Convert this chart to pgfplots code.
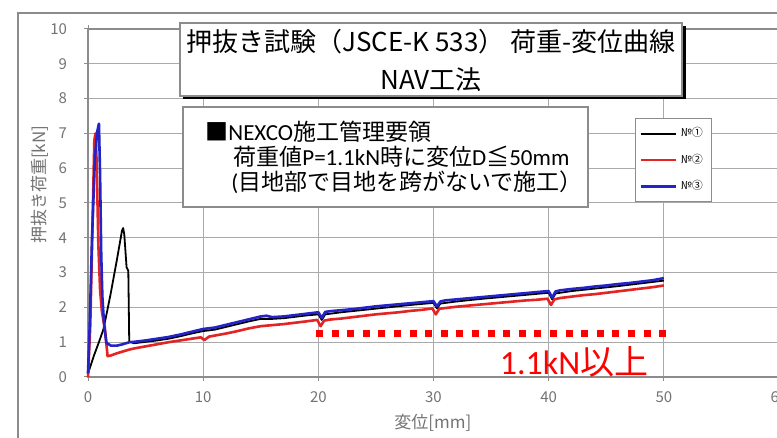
\documentclass[border=0pt]{standalone}
\usepackage{pgfplots}
\pgfplotsset{compat=1.18}
\usepackage{fontspec}
\setmainfont{Noto Sans CJK JP}
\newfontfamily\cjk{Noto Sans CJK JP}
\newfontfamily\carlito{Carlito}
\definecolor{myblue}{RGB}{35,35,200}
\definecolor{myred}{RGB}{228,35,35}
\definecolor{gridgray}{RGB}{170,170,170}
\definecolor{axgray}{RGB}{140,140,140}
\definecolor{txtgray}{RGB}{115,115,115}
\begin{document}
\begin{tikzpicture}
\begin{scope}[x=0.5pt,y=-0.5pt,yshift=219pt]
\fill[white] (0,0) rectangle (777,438);
\draw[axgray, line width=0.8pt] (18,13) rectangle (820,470);
\end{scope}
\begin{axis}[
  at={(44pt,30.5pt)}, anchor=south west, scale only axis,
  width=345.5pt, height=174pt,
  xmin=0, xmax=60, ymin=0, ymax=10,
  xtick={0,10,...,60}, ytick={0,1,...,10},
  grid=major, major grid style={gridgray, line width=0.5pt},
  axis line style={axgray, line width=0.6pt},
  tick style={axgray, line width=0.5pt}, tick align=outside, major tick length=2pt,
  /pgf/number format/assume math mode=true,
  ticklabel style={font=\fontsize{7.5}{9}\selectfont, text=txtgray},
  yticklabel style={xshift=-5pt},
  xticklabel style={yshift=-2pt},
  xlabel={変位[mm]}, ylabel={押抜き荷重[kN]},
  xlabel style={at={(rel axis cs:0.499,-0.132)}, anchor=center, font=\fontsize{8.5}{10}\selectfont, text=txtgray},
  ylabel style={at={(rel axis cs:-0.0695,0.552)}, anchor=center, font=\fontsize{8.5}{10}\selectfont, text=txtgray},
  clip=false,
  every axis plot/.append style={line join=round},
  legend style={at={(0.7916,0.744)}, anchor=north west, draw=axgray, fill=white,
    font=\fontsize{5.5}{6.5}\selectfont, inner xsep=2pt, inner ysep=2.5pt, row sep=3pt,
    cells={anchor=west}},
  legend image code/.code={\draw[#1] (0pt,0pt) -- (17.5pt,0pt);},
]
\addplot[black, line width=0.9pt] coordinates {
(0,0.1) (0.5,0.6) (1.0,1.05) (1.33,1.36) (1.7,1.95) (2.0,2.45) (2.5,3.35) (2.95,4.2) (3.05,4.28) (3.15,4.1) (3.35,3.15) (3.5,3.05) (3.58,1.02) (4,0.97) (5,1.01) (6,1.05) (7,1.1) (8,1.17) (9,1.25) (10,1.32) (11,1.36) (12,1.44) (13,1.52) (14,1.6) (15,1.67) (16,1.67) (17,1.69) (18,1.73) (19,1.77) (20,1.8) (20.3,1.64) (20.6,1.8) (22,1.86) (24,1.93) (26,2.0) (28,2.07) (30,2.13) (30.3,1.97) (30.6,2.11) (32,2.17) (34,2.24) (36,2.3) (38,2.36) (40,2.42) (40.3,2.23) (40.6,2.4) (42,2.47) (44,2.54) (46,2.61) (48,2.69) (50,2.77)};
\addlegendentry{№①}
\addplot[myred, line width=1.3pt] coordinates {
(0,0) (0.2,1.5) (0.4,4.5) (0.55,6.8) (0.65,7.0) (0.75,6.2) (0.9,3.8) (1.05,2.5) (1.2,1.9) (1.35,1.6) (1.45,1.45) (1.7,0.6) (2,0.62) (2.5,0.68) (3,0.73) (3.5,0.78) (4,0.82) (5,0.88) (6,0.94) (7,1.0) (8,1.05) (9,1.1) (9.8,1.14) (10.1,1.06) (10.5,1.16) (11,1.19) (12,1.25) (13,1.32) (14,1.4) (15,1.46) (16,1.49) (17,1.52) (18,1.56) (19,1.6) (19.9,1.64) (20.2,1.46) (20.5,1.62) (21,1.65) (22,1.68) (23,1.72) (24,1.76) (25,1.8) (26,1.83) (27,1.86) (28,1.9) (29,1.93) (29.9,1.97) (30.2,1.8) (30.5,1.96) (31,1.98) (32,2.02) (33,2.05) (34,2.08) (35,2.11) (36,2.14) (37,2.17) (38,2.2) (39,2.22) (39.9,2.25) (40.2,2.07) (40.5,2.23) (41,2.27) (42,2.31) (43,2.35) (44,2.38) (45,2.42) (46,2.46) (47,2.5) (48,2.54) (49,2.58) (50,2.63)};
\addlegendentry{№②}
\addplot[myblue, line width=1.3pt] coordinates {
(0,0.1) (0.15,1.5) (0.35,4.0) (0.6,6.3) (0.8,7.05) (0.95,7.28) (1.05,5.8) (1.15,3.5) (1.25,2.3) (1.4,1.5) (1.6,0.98) (2.0,0.9) (2.5,0.9) (3,0.94) (3.6,1.0) (4,1.01) (5,1.05) (6,1.1) (7,1.15) (8,1.22) (9,1.3) (10,1.38) (11,1.42) (12,1.5) (13,1.58) (14,1.66) (15,1.74) (15.5,1.76) (16,1.72) (17,1.74) (18,1.78) (19,1.82) (20,1.86) (20.3,1.7) (20.6,1.87) (21,1.89) (22,1.92) (23,1.95) (24,1.99) (25,2.03) (26,2.06) (27,2.09) (28,2.12) (29,2.15) (30,2.18) (30.3,2.03) (30.6,2.17) (31,2.2) (32,2.23) (33,2.26) (34,2.29) (35,2.32) (36,2.35) (37,2.38) (38,2.41) (39,2.44) (40,2.47) (40.3,2.28) (40.6,2.46) (41,2.49) (42,2.53) (43,2.56) (44,2.6) (45,2.63) (46,2.67) (47,2.7) (48,2.74) (49,2.78) (50,2.84)};
\addlegendentry{№③}
\addplot[red, line width=3.5pt, dash pattern=on 3.5pt off 4.3pt, forget plot] coordinates {(19.8,1.25) (50.2,1.25)};
\node[red, anchor=center, font=\fontsize{17}{19}\selectfont] at (axis cs:42.2,0.42) {{\carlito 1.1kN}以上};
\end{axis}
\begin{scope}[x=0.5pt,y=-0.5pt,yshift=219pt]
\fill[black] (183,26) rectangle (686,99.5);
\draw[axgray, fill=white, line width=0.6pt] (180,23) rectangle (682,96);
\node[anchor=center, inner sep=0pt, font=\fontsize{13}{15}\selectfont] at (431,42) {押抜き試験（JSCE-K 533） 荷重-変位曲線};
\node[anchor=center, inner sep=0pt, font=\fontsize{13}{15}\selectfont] at (431,80) {NAV工法};
\draw[axgray, fill=white, line width=0.6pt] (183,107) rectangle (588,207);
\node[anchor=west, inner sep=0pt, font=\fontsize{11.5}{13}\selectfont] at (205,132) {■{\carlito NEXCO}施工管理要領};
\node[anchor=west, inner sep=0pt, font=\fontsize{11.5}{13}\selectfont] at (233,157) {荷重値{\carlito P=1.1kN}時に変位{\carlito D}≦{\carlito 50mm}};
\node[anchor=west, inner sep=0pt, font=\fontsize{11.5}{13}\selectfont] at (231,182) {{\carlito (}目地部で目地を跨がないで施工）};
\end{scope}
\pgfresetboundingbox
\useasboundingbox (0,0) rectangle (388.5pt,219pt);
\end{tikzpicture}
\end{document}
